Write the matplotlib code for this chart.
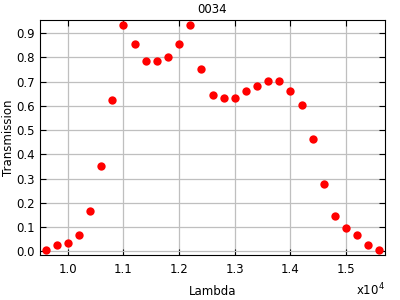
import numpy as np
import matplotlib
matplotlib.use("Agg")
import matplotlib.pyplot as plt

# wavelength and measured transmission
lam = [9600, 9800, 10000, 10200, 10400, 10600, 10800, 11000, 11200, 11400, 11600,
       11800, 12000, 12200, 12400, 12600, 12800, 13000, 13200, 13400, 13600,
       13800, 14000, 14200, 14400, 14600, 14800, 15000, 15200, 15400, 15600]
trans = [0.005, 0.025, 0.033, 0.066, 0.165, 0.354, 0.625, 0.934, 0.856, 0.786, 0.786,
         0.802, 0.856, 0.934, 0.753, 0.646, 0.634, 0.634, 0.663, 0.683, 0.704,
         0.704, 0.663, 0.605, 0.465, 0.276, 0.144, 0.095, 0.066, 0.025, 0.005]
xticks = [1.0, 1.1, 1.2, 1.3, 1.4, 1.5]
yticks = [0.0, 0.1, 0.2, 0.3, 0.4, 0.5, 0.6, 0.7, 0.8, 0.9]

x = np.array(lam) / 1e4

fig = plt.figure(figsize=(4, 3), dpi=100)
ax = fig.add_axes([0.1, 0.15, 0.8625, 0.7833])
ax.plot(x, trans, "o", color="#ff0000", markersize=6, markeredgewidth=0)

ax.set_xlim(x.min() - 0.01, x.max() + 0.01)
ax.set_ylim(min(trans) - 0.02, max(trans) + 0.02)
ax.set_xticks(xticks)
ax.set_yticks(yticks)
ax.set_xticklabels([f"{v:.1f}" for v in xticks])
ax.set_yticklabels([f"{v:.1f}" for v in yticks])
ax.tick_params(direction="in", top=True, right=True, labelsize=8.5, length=4, color="black")
ax.tick_params(axis="x", pad=6)
ax.tick_params(axis="y", pad=4)
ax.grid(True, color="#bfbfbf", linewidth=0.9)
ax.set_axisbelow(True)

ax.set_title("0034", fontsize=8.5, pad=5)
ax.set_xlabel("Lambda", fontsize=8.5, labelpad=6)
ax.set_ylabel("Transmission", fontsize=8.5)
ax.yaxis.set_label_coords(-0.072, 0.5)
ax.text(1.0, -0.115, r"x10$^4$", transform=ax.transAxes, ha="right", va="top", fontsize=8.5)

fig.savefig("out.png", dpi=100)
